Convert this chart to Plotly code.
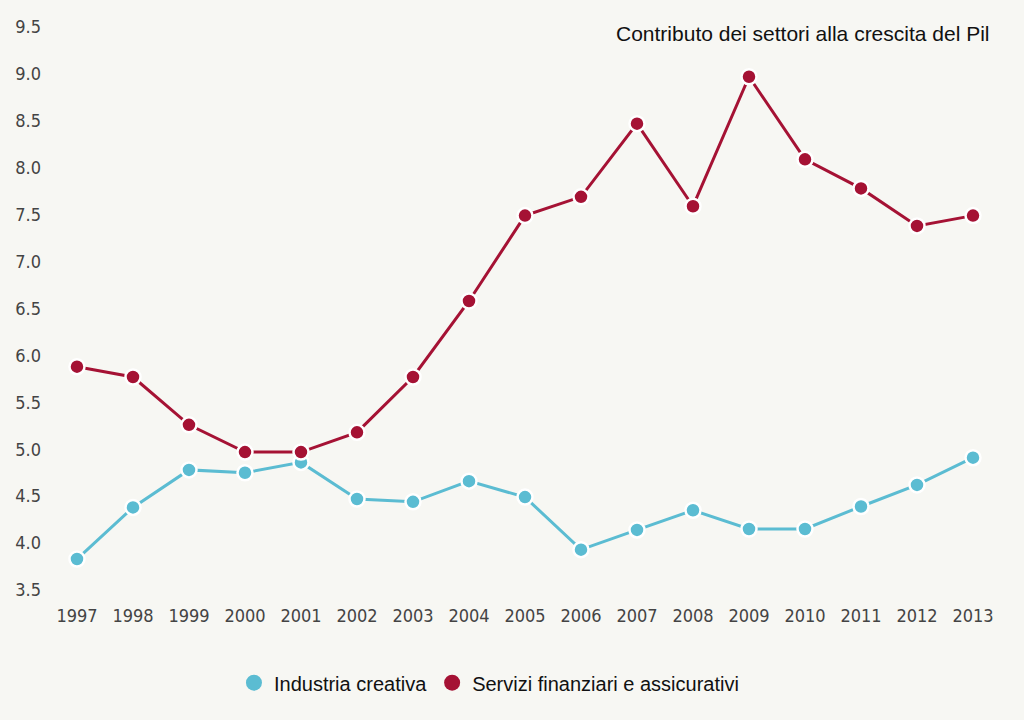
import plotly.graph_objects as go

years = list(range(1997, 2014))
industria_creativa = [3.83, 4.38, 4.78, 4.75, 4.86, 4.47, 4.44, 4.66, 4.49, 3.93, 4.14, 4.35, 4.15, 4.15, 4.39, 4.62, 4.91]
servizi_finanziari = [5.88, 5.77, 5.26, 4.97, 4.97, 5.18, 5.77, 6.58, 7.49, 7.69, 8.47, 7.59, 8.97, 8.09, 7.78, 7.38, 7.49]
y_ticks = [3.5, 4.0, 4.5, 5.0, 5.5, 6.0, 6.5, 7.0, 7.5, 8.0, 8.5, 9.0, 9.5]

CYAN = "#5bbcd2"
RED = "#a51234"
BG = "#f7f7f3"

fig = go.Figure()
for name, vals, col in [("Industria creativa", industria_creativa, CYAN),
                        ("Servizi finanziari e assicurativi", servizi_finanziari, RED)]:
    fig.add_trace(go.Scatter(
        x=years, y=vals, mode="lines+markers", name=name, showlegend=False,
        line=dict(color=col, width=3),
        marker=dict(color=col, size=15, line=dict(color="white", width=2.5)),
        cliponaxis=False,
    ))
    fig.add_trace(go.Scatter(
        x=[None], y=[None], mode="markers", name=name, showlegend=True,
        marker=dict(color=col, size=22),
    ))

tick_font = dict(family="DejaVu Sans Condensed, DejaVu Sans", size=18, color="#444444")

fig.update_layout(
    width=1024, height=720,
    paper_bgcolor=BG, plot_bgcolor=BG,
    margin=dict(l=50, r=30, t=27, b=130),
    xaxis=dict(range=[1996.518, 2013.375], tickmode="array", tickvals=years,
               ticktext=[str(y) for y in years], showgrid=False, zeroline=False,
               showline=False, ticks="", ticklabelstandoff=13, tickfont=tick_font),
    yaxis=dict(range=[3.5, 9.5], tickmode="array", tickvals=y_ticks,
               ticktext=[f"{v:.1f}" for v in y_ticks], showgrid=False, zeroline=False,
               showline=False, ticks="", ticklabelstandoff=8, tickfont=tick_font),
    legend=dict(orientation="h", x=0.465, xanchor="center", y=-0.13, yanchor="top",
                font=dict(family="Liberation Sans, Arial", size=20, color="#111111"),
                bgcolor="rgba(0,0,0,0)", itemwidth=30),
    annotations=[dict(text="Contributo dei settori alla crescita del Pil", xref="paper", yref="paper",
                      x=0.998, y=1.0, xanchor="right", yanchor="top", yshift=7, showarrow=False,
                      font=dict(family="Liberation Sans, Arial", size=21, color="#111111"))],
)

fig.write_html("out.html", config={"displayModeBar": False},
               post_script="document.body.style.margin='0';document.body.style.background='%s';" % BG)
